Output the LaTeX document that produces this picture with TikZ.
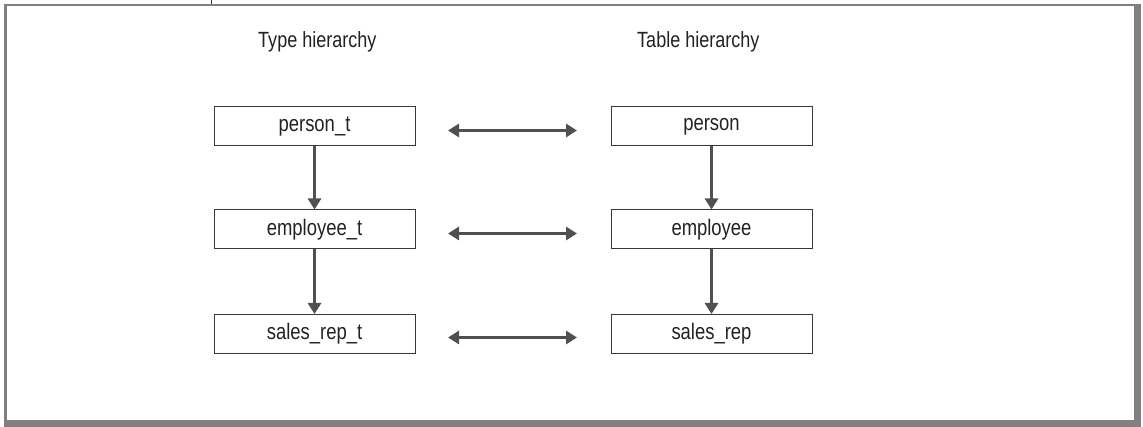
\documentclass[tikz,border=0pt]{standalone}
\usepackage{fontspec}
\setmainfont[FakeStretch=0.82]{Liberation Sans}
\usetikzlibrary{arrows.meta}
\definecolor{framegray}{HTML}{808080}
\definecolor{arrowgray}{HTML}{505050}
\definecolor{boxline}{HTML}{383838}
\definecolor{txt}{HTML}{222222}
\begin{document}
\begin{tikzpicture}[x=1pt,y=-1pt,
  typebox/.style={draw=boxline,line width=1pt,minimum width=201pt,minimum height=39pt,inner sep=0pt,
    font=\fontsize{22.5}{25}\selectfont,text=txt},
  title/.style={anchor=base west,inner sep=0pt,font=\fontsize{22}{25}\selectfont,text=txt},
  darrow/.style={draw=arrowgray,line width=3pt,-{Triangle[width=13pt,length=11pt]}},
  harrow/.style={draw=arrowgray,line width=3pt,{Triangle[width=13pt,length=11pt]}-{Triangle[width=13pt,length=11pt]}}]
\useasboundingbox (0,0) rectangle (1143,427);
% frame
\fill[framegray] (4,4) rectangle (1141,6.5);
\fill[framegray] (4,4) rectangle (6.5,427);
\fill[framegray] (1134,4) rectangle (1141,427);
\fill[framegray] (4,420) rectangle (1141,427);
\draw[boxline,line width=1pt] (211,0) -- (211,4);
% titles
\node[title] (t1) at (258,48) {Type hierarchy};
\node[title] (t2) at (637,48) {Table hierarchy};
% boxes
\node[typebox] (pt) at (314.5,126.5) {person\_t};
\node[typebox] (et) at (314.5,229.5) {employee\_t};
\node[typebox] (st) at (314.5,334) {sales\_rep\_t};
\node[typebox] (p) at (711.5,126.5) {person};
\node[typebox] (e) at (711.5,229.5) {employee};
\node[typebox] (s) at (711.5,334) {sales\_rep};
% vertical arrows
\draw[darrow] (pt) -- (et);
\draw[darrow] (et) -- (st);
\draw[darrow] (p) -- (e);
\draw[darrow] (e) -- (s);
% horizontal arrows
\coordinate (a1) at (448,130.5); \coordinate (b1) at (577,130.5);
\coordinate (a2) at (448,233.5); \coordinate (b2) at (577,233.5);
\coordinate (a3) at (448,337.5); \coordinate (b3) at (577,337.5);
\draw[harrow] (a1) -- (b1);
\draw[harrow] (a2) -- (b2);
\draw[harrow] (a3) -- (b3);
\end{tikzpicture}
\end{document}
